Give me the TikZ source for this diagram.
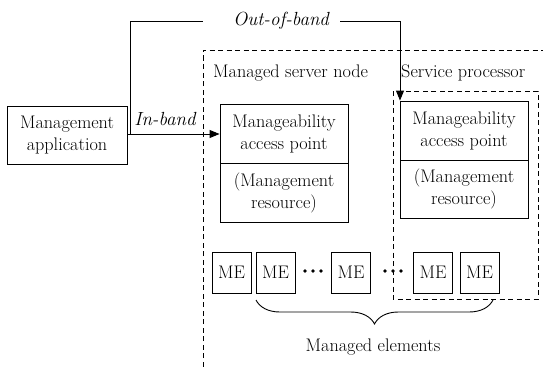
\documentclass[tikz,border=0pt]{standalone}
\usetikzlibrary{arrows.meta,decorations.pathreplacing}
\begin{document}
\begin{tikzpicture}[x=1pt,y=-1pt,
  font=\fontsize{18.2}{22}\selectfont,
  box/.style={draw,line width=0.9pt,inner sep=0pt,align=center},
  mebox/.style={box,minimum width=39pt,minimum height=41pt},
  dbox/.style={draw,line width=0.9pt,dash pattern=on 5pt off 3.5pt},
  conn/.style={line width=0.9pt},
  tip/.style={-{Triangle[length=10pt,width=8pt]}},
  lbl/.style={inner sep=0pt,font=\fontsize{19}{22}\selectfont\itshape}]
\useasboundingbox (0,0) rectangle (543,369);
% outer dashed region (managed server node)
\draw[dbox] (203,375) -- (203,50) -- (550,50);
% service processor dashed box
\draw[dbox] (393,91) rectangle (538,299);
% management application
\node[box,minimum width=120pt,minimum height=58pt] (app) at (67,135) {Management\\application};
% left MAP
\node[box,minimum width=128pt,minimum height=59pt] (lmap) at (284,133.5) {Manageability\\access point};
\node[box,minimum width=128pt,minimum height=59pt] (lres) at (284,192.5) {(Management\\resource)};
% right MAP
\node[box,minimum width=128pt,minimum height=59pt] (rmap) at (464,130.5) {Manageability\\access point};
\node[box,minimum width=128pt,minimum height=58pt] (rres) at (464,189) {(Management\\resource)};
% labels
\node[anchor=west,inner sep=0pt] (msn) at (213,73) {Managed server node};
\node[anchor=west,inner sep=0pt] (sp) at (401,73) {Service processor};
% managed elements
\node[mebox] (me1) at (231.5,272.5) {ME};
\node[mebox] (me2) at (275.5,272.5) {ME};
\node[mebox] (me3) at (351,272.5) {ME};
\node[mebox] (me4) at (433,272.5) {ME};
\node[mebox] (me5) at (479.5,272.5) {ME};
\foreach \x in {305,313,321,385,393,401}
  \fill (\x,271) circle (1.8pt);
% brace
\coordinate (bl) at (256,300);
\coordinate (br) at (493,300);
\draw[line width=0.9pt,decorate,decoration={brace,amplitude=24pt,aspect=0.5}] (br) -- (bl);
\node (mel) at (373,347) {Managed elements};
% in-band
\draw[conn,tip] (app.east |- 0,134) -- (lmap.west |- 0,134);
\node[lbl] (inb) at (165,119) {In-band};
% out-of-band
\coordinate (o1) at (130,134);
\coordinate (o2) at (130,21);
\coordinate (o3) at (203,21);
\coordinate (o4) at (340,21);
\coordinate (o5) at (400,21);
\node[lbl] (oob) at (281,21) {Out-of-band};
\draw[conn] (o1) -- (o2) -- (o3);
\draw[conn,tip] (o4) -- (o5) -- (rmap.north -| o5);
\end{tikzpicture}
\end{document}
